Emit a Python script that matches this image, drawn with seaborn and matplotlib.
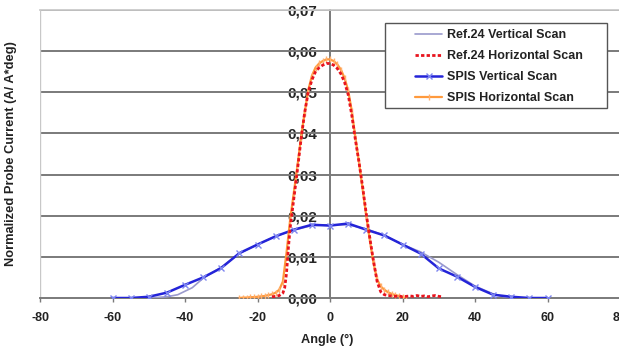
import matplotlib
matplotlib.use("Agg")
import matplotlib.pyplot as plt
import matplotlib.ticker as mticker
from matplotlib.patches import Rectangle
import seaborn as sns
import pandas as pd

# ---------------- data ----------------
ref_v_angle = [-50, -45, -42, -38, -35, -30, -25, -20, -15, -10, -5, 0, 5, 10, 15, 20, 25, 30, 35, 40, 45, 48, 50]
ref_v_value = [0.0000, 0.0003, 0.0008, 0.0025, 0.0048, 0.0075, 0.0108, 0.0130, 0.0150, 0.0165, 0.0176, 0.0178,
               0.0178, 0.0168, 0.0152, 0.0130, 0.0112, 0.0087, 0.0057, 0.0029, 0.0010, 0.0003, 0.0000]

ref_h_angle = [-16, -15, -14, -13, -12.5, -12, -11.5, -11, -10, -9, -8, -7, -6, -5, -4, -3, -2, -1, 0,
               1, 2, 3, 4, 5, 6, 7, 8, 9, 10, 11, 12, 13, 14, 15, 16, 17, 18, 19, 20, 21, 22, 23, 24,
               25, 26, 27, 28, 29, 30, 31]
ref_h_value = [0.0003, 0.0004, 0.0006, 0.0012, 0.0025, 0.0060, 0.0120, 0.0170, 0.0240, 0.0310, 0.0385, 0.0450,
               0.0500, 0.0530, 0.0550, 0.0560, 0.0566, 0.0570, 0.0570,
               0.0566, 0.0558, 0.0545, 0.0525, 0.0495, 0.0445, 0.0385, 0.0330, 0.0270, 0.0205, 0.0145,
               0.0090, 0.0040, 0.0015, 0.0008, 0.0006, 0.0005, 0.0004, 0.0005, 0.0003, 0.0004, 0.0005,
               0.0004, 0.0006, 0.0004, 0.0005, 0.0003, 0.0005, 0.0006, 0.0004, 0.0003]

spis_v_angle = [-60, -55, -50, -45, -40, -35, -30, -25, -20, -15, -10, -5, 0, 5, 10, 15, 20, 25, 30, 35, 40, 45, 50, 55, 60]
spis_v_value = [0.0000, 0.0000, 0.0003, 0.0013, 0.0032, 0.0050, 0.0073, 0.0109, 0.0130, 0.0150, 0.0166, 0.0178,
                0.0176, 0.0181, 0.0166, 0.0152, 0.0130, 0.0108, 0.0072, 0.0052, 0.0027, 0.0008, 0.0003,
                0.0000, 0.0000]

spis_h_angle = list(range(-25, 22))
spis_h_value = [0.0000, 0.0001, 0.0001, 0.0002, 0.0002, 0.0003, 0.0004, 0.0005, 0.0007, 0.0009, 0.0013,
                0.0020, 0.0040, 0.0110, 0.0190, 0.0255, 0.0320, 0.0390, 0.0450, 0.0505, 0.0540, 0.0560,
                0.0570, 0.0576, 0.0580, 0.0580, 0.0576, 0.0568, 0.0555, 0.0535, 0.0505, 0.0455, 0.0390,
                0.0330, 0.0265, 0.0200, 0.0140, 0.0085, 0.0045, 0.0028, 0.0020, 0.0014, 0.0010, 0.0007,
                0.0005, 0.0002, 0.0000]

x_ticks = [-80, -60, -40, -20, 0, 20, 40, 60, 80]
y_ticks = [0.00, 0.01, 0.02, 0.03, 0.04, 0.05, 0.06, 0.07]

labels = ["Ref.24 Vertical Scan", "Ref.24 Horizontal Scan", "SPIS Vertical Scan", "SPIS Horizontal Scan"]
x_label = "Angle (°)"
y_label = "Normalized Probe Current (A/ A*deg)"

# ---------------- plot ----------------
sns.set_theme(style="white")
plt.rcParams["font.family"] = ["Liberation Sans", "DejaVu Sans"]
plt.rcParams["font.weight"] = "bold"

W, H = 619, 350
AX_L, AX_R, AX_T, AX_B = 40, 620, 10, 298


def ax_x(px):
    return (px - AX_L) / (AX_R - AX_L)


def ax_y(py):
    return 1 - (py - AX_T) / (AX_B - AX_T)


fig = plt.figure(figsize=(W / 100, H / 100), dpi=100)
ax = fig.add_axes([AX_L / W, 1 - AX_B / H, (AX_R - AX_L) / W, (AX_B - AX_T) / H])
ax.set_axisbelow(True)

grid_col = "#7a7a7a"
for yv in y_ticks[1:]:
    ax.axhline(yv, color=grid_col, lw=1.4, zorder=1)
ax.axvline(-80, color="#c8c8c8", lw=1.0, zorder=1)

df_rv = pd.DataFrame({"x": ref_v_angle, "y": ref_v_value})
df_rh = pd.DataFrame({"x": ref_h_angle, "y": ref_h_value})
df_sv = pd.DataFrame({"x": spis_v_angle, "y": spis_v_value})
df_sh = pd.DataFrame({"x": spis_h_angle, "y": spis_h_value})

sns.lineplot(data=df_rv, x="x", y="y", ax=ax, color="#9a9acc", lw=1.2, label=labels[0], zorder=3, sort=False)
sns.lineplot(data=df_rh, x="x", y="y", ax=ax, color="#e8141e", lw=2.0, linestyle=(0, (1.2, 0.8)),
             label=labels[1], zorder=5, sort=False)
sns.lineplot(data=df_sv, x="x", y="y", ax=ax, color="#2424d8", lw=1.8, marker="x", markersize=5,
             markeredgecolor="#7e86f0", markeredgewidth=1.0, label=labels[2], zorder=4, sort=False)
sns.lineplot(data=df_sh, x="x", y="y", ax=ax, color="#ff9a3c", lw=1.6, marker="|", markersize=5,
             markeredgecolor="#ffb070", markeredgewidth=1.0, label=labels[3], zorder=4, sort=False)

ax.set_xlim(-80, 80)
ax.set_ylim(0, 0.07)
ax.set_xticks(x_ticks)
ax.set_yticks(y_ticks)
ax.yaxis.set_major_formatter(mticker.FuncFormatter(lambda v, p: f"{v:.2f}".replace(".", ",")))
ax.xaxis.set_major_formatter(mticker.FuncFormatter(lambda v, p: f"{v:.0f}"))

for lab in ax.get_xticklabels() + ax.get_yticklabels():
    lab.set_fontweight("bold")
    lab.set_fontsize(9)
    lab.set_color("#222222")

ax.spines["left"].set_position(("data", 0))
ax.spines["left"].set_color(grid_col)
ax.spines["left"].set_linewidth(1.4)
ax.spines["bottom"].set_color(grid_col)
ax.spines["bottom"].set_linewidth(1.4)
ax.spines["top"].set_color("#c8c8c8")
ax.spines["right"].set_visible(False)
ax.tick_params(axis="y", length=0, pad=9)
ax.tick_params(axis="x", length=3, width=1, color=grid_col, pad=7, direction="out")
ax.tick_params(left=True, bottom=True)

ax.set_xlabel(x_label, fontsize=9.2, fontweight="bold", color="#222222")
ax.set_ylabel(y_label, fontsize=9.3, fontweight="bold", color="#222222")
ax.xaxis.set_label_coords(ax_x(327), ax_y(334))
ax.yaxis.set_label_coords(ax_x(17), 0.5)

# legend frame drawn as a rectangle, legend entries without frame
frame = Rectangle((ax_x(385), ax_y(108)), ax_x(607) - ax_x(385), ax_y(23) - ax_y(108),
                  transform=ax.transAxes, facecolor="white", edgecolor="#555555", lw=1.0,
                  zorder=6, clip_on=False)
ax.add_patch(frame)

handles, _ = ax.get_legend_handles_labels()
leg = ax.legend(handles, labels, loc="upper left",
                bbox_to_anchor=(ax_x(415), ax_y(29)),
                borderaxespad=0, frameon=False, fontsize=9, handlelength=2.16,
                handletextpad=0.4, labelspacing=0.72, borderpad=0)
leg.set_zorder(7)
for t in leg.get_texts():
    t.set_fontweight("bold")
    t.set_color("#222222")

fig.savefig("out.png", dpi=100)
